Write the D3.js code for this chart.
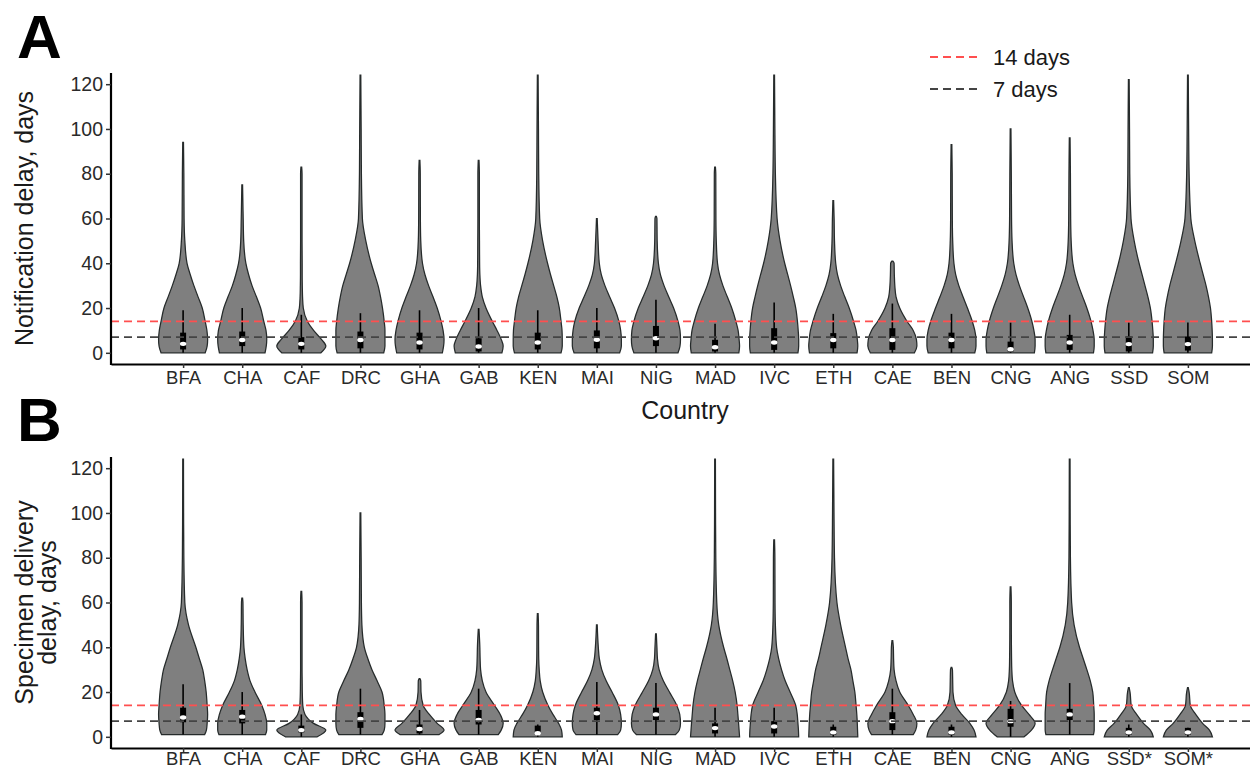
<!DOCTYPE html>
<html>
<head>
<meta charset="utf-8">
<script src="https://cdn.jsdelivr.net/npm/d3@7"></script>
<style>
body { margin: 0; background: #fff; }
svg text { font-family: "Liberation Sans", Arial, sans-serif; }
</style>
</head>
<body>
<svg id="chart" width="1250" height="770"></svg>
<script>
// categories
var countries = ["BFA", "CHA", "CAF", "DRC", "GHA", "GAB", "KEN", "MAI", "NIG",
                 "MAD", "IVC", "ETH", "CAE", "BEN", "CNG", "ANG", "SSD", "SOM"];
var labelsA = countries;
var labelsB = ["BFA", "CHA", "CAF", "DRC", "GHA", "GAB", "KEN", "MAI", "NIG",
               "MAD", "IVC", "ETH", "CAE", "BEN", "CNG", "ANG", "SSD*", "SOM*"];
var yTicks = [0, 20, 40, 60, 80, 100, 120];
var refDays = [14, 7];
var refNames = ["14 days", "7 days"];

// days at which the violin widths are read (fraction of the widest point)
var levels = [0, 3, 6, 10, 14, 20, 25, 30, 35, 40, 50, 60, 80, 100, 124];

// A: notification delay
var aMin = [0, 0, 0, 0, 0, 0, 0, 0, 0, 0, 0, 0, 0, 0, 0, 0, 0, 0];
var aMax = [94, 75, 83, 124, 86, 86, 124, 60, 61, 83, 124, 68, 41, 93, 100, 96, 122, 124];
var aWidths = [
  [0.9, 0.98, 1.0, 0.97, 0.9, 0.78, 0.61, 0.44, 0.29, 0.16, 0.07, 0.04, 0.03],
  [0.93, 0.98, 1.0, 0.97, 0.88, 0.75, 0.58, 0.4, 0.26, 0.15, 0.06, 0.04],
  [0.8, 1.0, 0.82, 0.5, 0.25, 0.08, 0.05, 0.04, 0.035, 0.035, 0.03, 0.03, 0.03],
  [0.95, 1.0, 1.0, 1.0, 0.97, 0.9, 0.82, 0.72, 0.58, 0.44, 0.22, 0.08, 0.04, 0.03],
  [0.93, 0.98, 1.0, 0.96, 0.88, 0.72, 0.55, 0.37, 0.22, 0.12, 0.05, 0.035, 0.03],
  [0.95, 1.0, 0.92, 0.75, 0.56, 0.3, 0.15, 0.08, 0.05, 0.04, 0.035, 0.03, 0.03],
  [0.95, 1.0, 1.0, 0.99, 0.95, 0.88, 0.78, 0.65, 0.52, 0.4, 0.2, 0.08, 0.04, 0.03],
  [0.93, 1.0, 1.0, 0.97, 0.9, 0.72, 0.52, 0.33, 0.18, 0.1, 0.05],
  [0.9, 0.98, 1.0, 0.98, 0.9, 0.72, 0.52, 0.33, 0.18, 0.1, 0.05, 0.04],
  [0.97, 1.0, 0.98, 0.94, 0.85, 0.68, 0.5, 0.32, 0.18, 0.1, 0.05, 0.035, 0.03],
  [0.97, 1.0, 1.0, 0.98, 0.95, 0.88, 0.78, 0.67, 0.55, 0.43, 0.24, 0.12, 0.05, 0.03],
  [0.97, 1.0, 0.98, 0.93, 0.83, 0.65, 0.47, 0.3, 0.17, 0.1, 0.05, 0.035],
  [0.9, 1.0, 0.98, 0.85, 0.6, 0.3, 0.15, 0.1, 0.08, 0.07],
  [0.95, 1.0, 1.0, 0.95, 0.85, 0.65, 0.47, 0.3, 0.17, 0.1, 0.05, 0.035, 0.03],
  [0.97, 1.0, 1.0, 0.95, 0.87, 0.7, 0.53, 0.36, 0.22, 0.13, 0.06, 0.04, 0.03],
  [0.97, 1.0, 1.0, 0.95, 0.87, 0.7, 0.53, 0.36, 0.22, 0.13, 0.06, 0.04, 0.03],
  [0.97, 1.0, 1.0, 0.98, 0.95, 0.88, 0.78, 0.66, 0.54, 0.42, 0.22, 0.09, 0.04, 0.03],
  [0.97, 1.0, 1.0, 0.99, 0.97, 0.92, 0.84, 0.74, 0.62, 0.5, 0.28, 0.12, 0.05, 0.03]
];
var aQ1 = [1.5, 3, 1.5, 2, 1.5, 0.6, 1.5, 2, 3, 0.6, 1.3, 2, 1.3, 2, 0.6, 1.3, 0.6, 1];
var aMed = [4, 5.7, 4, 5.7, 4.6, 2.8, 4.6, 5.8, 6.5, 2.5, 4.6, 5.7, 5.7, 5.7, 1.6, 4.6, 3.9, 3.9];
var aQ3 = [9, 9.5, 7, 9.5, 9, 6.5, 9, 10, 12, 5.8, 11, 8.8, 11, 9, 5, 8, 7.3, 7.3];
var aHi = [19, 20, 17, 17.7, 19, 20, 19, 20, 23.7, 13, 22.5, 17.4, 22, 17.4, 13.5, 17, 13.5, 13.5];

// B: specimen delivery delay
var bMin = [1, 1, 0, 1, 1, 1, 0, 1, 1, 0, 0, 0, 1, 0, 0, 1, 0, 0];
var bMax = [124, 62, 65, 100, 26, 48, 55, 50, 46, 124, 88, 124, 43, 31, 67, 124, 22, 22];
var bWidths = [
  [0.88, 0.95, 0.98, 1.0, 0.98, 0.94, 0.88, 0.8, 0.66, 0.52, 0.22, 0.07, 0.03, 0.02],
  [0.95, 1.0, 1.0, 0.93, 0.8, 0.52, 0.32, 0.2, 0.12, 0.07, 0.04, 0.03],
  [0.65, 1.0, 0.5, 0.15, 0.06, 0.04, 0.035, 0.03, 0.03, 0.03, 0.03, 0.03],
  [0.88, 0.97, 1.0, 1.0, 0.97, 0.88, 0.68, 0.47, 0.3, 0.16, 0.06, 0.04, 0.03],
  [0.8, 1.0, 0.72, 0.4, 0.15, 0.06, 0.05],
  [0.8, 0.92, 1.0, 0.88, 0.65, 0.3, 0.15, 0.08, 0.06, 0.05],
  [1.0, 0.97, 0.85, 0.62, 0.42, 0.2, 0.1, 0.06, 0.04, 0.035, 0.03],
  [0.85, 0.97, 1.0, 0.97, 0.88, 0.62, 0.38, 0.2, 0.1, 0.06],
  [0.8, 0.95, 1.0, 0.97, 0.85, 0.55, 0.3, 0.13, 0.06, 0.04],
  [1.0, 0.98, 0.96, 0.93, 0.9, 0.82, 0.72, 0.6, 0.48, 0.35, 0.15, 0.07, 0.03, 0.02],
  [1.0, 0.99, 0.97, 0.94, 0.88, 0.65, 0.45, 0.3, 0.18, 0.1, 0.05, 0.035, 0.03],
  [1.0, 0.99, 0.98, 0.96, 0.93, 0.88, 0.8, 0.72, 0.6, 0.5, 0.3, 0.15, 0.05, 0.03],
  [0.85, 0.95, 1.0, 0.85, 0.65, 0.3, 0.15, 0.07, 0.05, 0.04],
  [1.0, 0.92, 0.75, 0.42, 0.17, 0.06, 0.05, 0.04],
  [0.55, 0.85, 1.0, 0.75, 0.45, 0.17, 0.08, 0.05, 0.04, 0.035, 0.03, 0.03],
  [0.97, 1.0, 1.0, 1.0, 0.98, 0.94, 0.84, 0.7, 0.55, 0.4, 0.18, 0.08, 0.03, 0.02],
  [1.0, 0.88, 0.6, 0.32, 0.1, 0.05],
  [1.0, 0.88, 0.6, 0.32, 0.1, 0.05]
];
var bQ1 = [6.5, 6, 2, 4, 1.5, 5.5, 1, 7.5, 7.5, 1.5, 1.5, 1, 3, 1, 4.5, 7.5, 1, 1];
var bMed = [8.6, 9, 3, 8, 3.5, 7.5, 1.6, 10.5, 10, 3.9, 4.6, 2, 7, 2, 7, 10, 2, 2];
var bQ3 = [13, 12, 5, 11, 5.5, 12, 5, 13, 13, 6, 7, 4.5, 11, 4.5, 12.5, 12.5, 4, 4];
var bHi = [23.5, 20, 10, 21.5, 12, 21.5, 5.5, 24.5, 24, 13, 13, 5.5, 21.5, 5.5, 16, 24, 5.5, 4];

var svg = d3.select("#chart");
var refColors = ["#ff4f4f", "#444444"];

var x = d3.scalePoint()
  .domain(countries)
  .range([111, 1260])
  .padding(1.22);
var halfW = x.step() * 0.415;

function drawPanel(p) {
  var y = d3.scaleLinear().domain([-5, 125]).range([p.bottom, p.top]);
  var g = svg.append("g");

  var area = d3.area()
    .curve(d3.curveMonotoneY)
    .y(function(d) { return y(d[0]); });

  countries.forEach(function(c, i) {
    var cx = x(c);
    var pts = p.widths[i].map(function(w, k) {
      return [Math.max(levels[k], p.min[i]), w];
    });
    pts.push([p.max[i], 0.015]);
    area.x0(function(d) { return cx - d[1] * halfW; })
        .x1(function(d) { return cx + d[1] * halfW; });
    g.append("path")
      .attr("d", area(pts))
      .attr("fill", "#7f7f7f")
      .attr("stroke", "#262b2b")
      .attr("stroke-width", 1.25);

    // box plot inside the violin
    g.append("line")
      .attr("x1", cx).attr("x2", cx)
      .attr("y1", y(p.min[i])).attr("y2", y(p.hi[i]))
      .attr("stroke", "#000").attr("stroke-width", 1.6);
    g.append("rect")
      .attr("x", cx - 3).attr("width", 6)
      .attr("y", y(p.q3[i])).attr("height", y(p.q1[i]) - y(p.q3[i]))
      .attr("fill", "#000");
    g.append("ellipse")
      .attr("cx", cx).attr("cy", y(p.med[i]))
      .attr("rx", 3.2).attr("ry", 2.2)
      .attr("fill", "#fff");
  });

  // reference lines
  refDays.forEach(function(d, k) {
    g.append("line")
      .attr("x1", 111).attr("x2", 1250)
      .attr("y1", y(d)).attr("y2", y(d))
      .attr("stroke", refColors[k])
      .attr("stroke-width", 1.8)
      .attr("stroke-dasharray", "8,5");
  });

  // axes
  var yAxis = d3.axisLeft(y).tickValues(yTicks).tickSize(5).tickSizeOuter(0);
  var ya = g.append("g").attr("transform", "translate(111,0)").call(yAxis);
  ya.select(".domain").attr("stroke-width", 2.2).attr("d", "M0," + p.top + "V" + (p.bottom + 1));
  ya.selectAll(".tick line").attr("stroke", "#333").attr("stroke-width", 1.5);
  ya.selectAll(".tick text").attr("font-size", 19.5).attr("fill", "#2a2a2a").attr("x", -8);

  var xAxis = d3.axisBottom(x).tickSize(4).tickSizeOuter(0).tickPadding(p.pad)
    .tickFormat(function(d, i) { return p.labels[i]; });
  var xa = g.append("g").attr("transform", "translate(0," + p.bottom + ")").call(xAxis);
  xa.select(".domain").attr("stroke-width", 2.2);
  xa.selectAll(".tick line").attr("stroke", "#333").attr("stroke-width", 1.5);
  xa.selectAll(".tick text").attr("font-size", 18.5).attr("fill", "#2a2a2a");

  // panel letter
  svg.append("text")
    .attr("x", 17).attr("y", p.letterY)
    .attr("font-size", 62).attr("font-weight", "bold")
    .text(p.letter);

  // y title
  var t = svg.append("text")
    .attr("transform", "translate(" + p.titleX + "," + ((p.top + p.bottom) / 2) + ") rotate(-90)")
    .attr("text-anchor", "middle")
    .attr("font-size", 25)
    .attr("fill", "#1a1a1a");
  p.title.forEach(function(line, k) {
    t.append("tspan").attr("x", 0).attr("dy", k === 0 ? 0 : "0.9em").text(line);
  });
}

drawPanel({
  top: 73, bottom: 364, letter: "A", letterY: 58, titleX: 33, pad: 3,
  title: ["Notification delay, days"], labels: labelsA,
  min: aMin, max: aMax, widths: aWidths, q1: aQ1, med: aMed, q3: aQ3, hi: aHi
});
drawPanel({
  top: 457, bottom: 748, letter: "B", letterY: 441, titleX: 33, pad: 0,
  title: ["Specimen delivery", "delay, days"], labels: labelsB,
  min: bMin, max: bMax, widths: bWidths, q1: bQ1, med: bMed, q3: bQ3, hi: bHi
});

// x title of panel A
svg.append("text")
  .attr("x", 685).attr("y", 419)
  .attr("text-anchor", "middle")
  .attr("font-size", 25).attr("fill", "#1a1a1a")
  .text("Country");

// legend
var legend = svg.append("g");
refNames.forEach(function(name, k) {
  var ly = 57 + k * 32;
  legend.append("line")
    .attr("x1", 930).attr("x2", 982)
    .attr("y1", ly).attr("y2", ly)
    .attr("stroke", refColors[k]).attr("stroke-width", 1.8)
    .attr("stroke-dasharray", "8,5");
  legend.append("text")
    .attr("x", 993).attr("y", ly + 8)
    .attr("font-size", 22).attr("fill", "#1a1a1a")
    .text(name);
});
</script>
</body>
</html>
